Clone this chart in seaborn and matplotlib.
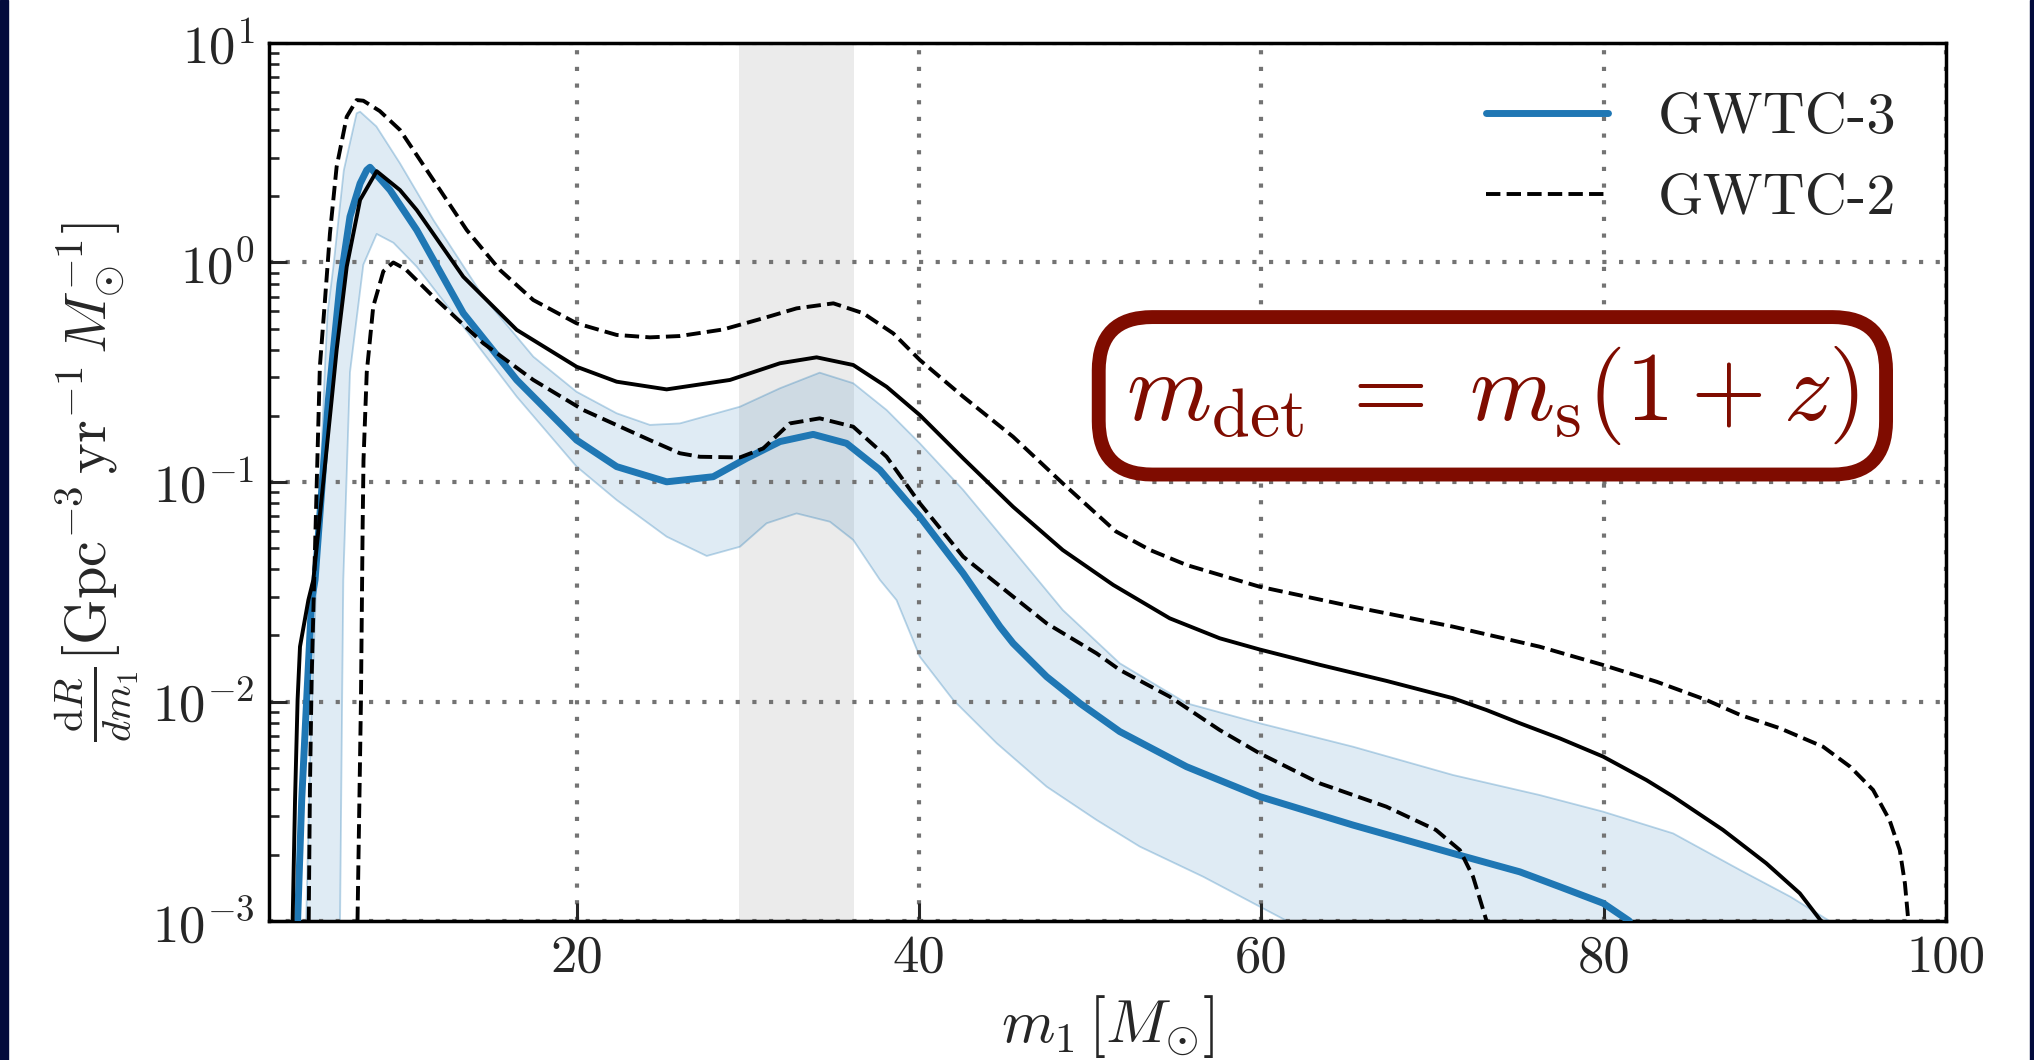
import numpy as np
import pandas as pd
import matplotlib
matplotlib.use("Agg")
import matplotlib.pyplot as plt
from matplotlib.ticker import NullFormatter
import seaborn as sns

# ---------------- data ----------------
# GWTC-3 median (blue)
m_g3_med = [3.70, 3.94, 4.23, 4.52, 4.72, 5.5, 5.79, 6.18, 6.76, 7.35, 7.74, 7.93, 9.1, 10.66,
            13.38, 16.5, 20.0, 22.34, 25.26, 27.98, 29.93, 31.88, 33.82, 35.77, 37.72, 40.05,
            42.58, 44.73, 45.5, 47.46, 49.4, 51.73, 55.63, 59.9, 65.36, 71.2, 75.1, 77.44,
            79.97, 81.5]
r_g3_med = [0.00100, 0.00356, 0.0102, 0.0290, 0.0358, 0.237, 0.399, 0.803, 1.618, 2.29, 2.636,
            2.716, 2.138, 1.406, 0.5875, 0.2917, 0.1552, 0.1175, 0.1002, 0.1057, 0.1282,
            0.1528, 0.1648, 0.1500, 0.1135, 0.0695, 0.03837, 0.02193, 0.01841, 0.01297,
            0.009817, 0.007295, 0.005047, 0.003690, 0.002735, 0.002032, 0.001675, 0.001432,
            0.001205, 0.00100]

# GWTC-3 90% band, upper and lower edges
m_g3_hi = [4.2, 4.45, 4.75, 5.3, 5.45, 5.79, 6.4, 7.15, 7.35, 8.3, 9.68, 11.63, 14.55, 17.47,
           20.0, 22.34, 24.28, 26.03, 29.54, 31.88, 34.2, 36.16, 38.11, 40.05, 42.58, 45.5,
           48.4, 51.73, 55.63, 59.9, 65.36, 71.2, 76.25, 79.97, 84.06, 88.0, 90.9, 93.2]
r_g3_hi = [0.00100, 0.00631, 0.02884, 0.3350, 0.5875, 0.957, 2.630, 4.786, 4.864, 4.169, 2.831,
           1.563, 0.6982, 0.3724, 0.2576, 0.2056, 0.1820, 0.1849, 0.2203, 0.2673, 0.3148,
           0.2818, 0.2128, 0.1500, 0.09204, 0.04898, 0.02612, 0.01493, 0.009817, 0.007962,
           0.006223, 0.004624, 0.003750, 0.003148, 0.002506, 0.001702, 0.001291, 0.00100]
m_g3_lo = [6.18, 6.3, 6.37, 6.76, 7.54, 8.32, 9.3, 10.66, 13.38, 16.5, 20.0, 22.34, 25.26,
           27.6, 29.54, 31.1, 32.85, 34.8, 36.16, 37.72, 38.69, 40.05, 42.0, 44.54, 47.46,
           50.38, 52.9, 56.6, 61.5]
r_g3_lo = [0.00100, 0.0100, 0.0358, 0.3162, 0.977, 1.349, 1.230, 0.957, 0.5105, 0.2449, 0.1175,
           0.08279, 0.05636, 0.04603, 0.05070, 0.06486, 0.07194, 0.06592, 0.05445, 0.03581,
           0.02897, 0.01600, 0.01016, 0.006457, 0.004093, 0.002884, 0.002183, 0.001592,
           0.00100]

# GWTC-2 median (black solid)
m_g2_med = [3.41, 3.55, 3.70, 3.84, 4.33, 4.62, 5.69, 5.98, 6.57, 7.35, 8.32, 9.68, 10.66,
            13.38, 16.5, 20.0, 22.34, 25.26, 28.96, 31.88, 34.02, 36.16, 38.11, 40.05, 42.58,
            45.5, 48.4, 51.35, 54.65, 57.57, 59.9, 63.42, 67.3, 71.2, 73.16, 75.1, 77.44,
            79.97, 82.5, 84.06, 86.97, 89.5, 91.46, 92.7]
r_g2_med = [0.00100, 0.00356, 0.0102, 0.01778, 0.0290, 0.0358, 0.237, 0.399, 0.957, 1.928,
            2.606, 2.138, 1.734, 0.861, 0.4932, 0.3350, 0.2864, 0.2642, 0.2917, 0.3475,
            0.3698, 0.3412, 0.2716, 0.2018, 0.1282, 0.07709, 0.04898, 0.03396, 0.02393,
            0.01941, 0.01726, 0.01469, 0.01242, 0.01035, 0.009141, 0.007962, 0.006792,
            0.005610, 0.004385, 0.003690, 0.002600, 0.001832, 0.001337, 0.00100]

# GWTC-2 90% bounds (black dashed)
m_g2_hi = [4.35, 4.42, 4.52, 4.65, 5.0, 5.3, 5.59, 5.98, 6.57, 7.15, 7.54, 8.5, 9.68, 11.63,
           13.58, 15.52, 17.47, 20.0, 22.34, 24.28, 26.03, 28.57, 30.9, 32.85, 35.0, 36.74,
           38.5, 40.05, 42.58, 45.5, 48.4, 51.5, 53.5, 55.63, 59.9, 65.36, 71.2, 76.25, 79.97,
           83.1, 86.0, 88.0, 90.3, 92.82, 94.4, 95.74, 96.7, 97.3, 97.6, 97.8]
r_g2_hi = [0.00100, 0.00398, 0.01259, 0.03162, 0.3350, 0.6745, 1.358, 2.729, 4.613, 5.495,
           5.458, 4.898, 4.018, 2.377, 1.406, 0.9247, 0.6745, 0.5284, 0.4677, 0.4560, 0.4624,
           0.4955, 0.5572, 0.6180, 0.6516, 0.5875, 0.4753, 0.3597, 0.2449, 0.1607, 0.09863,
           0.05957, 0.04900, 0.04188, 0.03334, 0.02704, 0.02193, 0.01778, 0.01466, 0.01230,
           0.01016, 0.008670, 0.007551, 0.006223, 0.005047, 0.003954, 0.002884, 0.002104,
           0.001483, 0.00100]
m_g2_lo = [7.2, 7.4, 7.5, 7.55, 7.74, 8.12, 8.71, 9.29, 10.0, 11.63, 14.55, 17.47, 20.39,
           24.28, 26.03, 27.2, 29.54, 30.9, 32.46, 34.2, 36.16, 38.11, 40.05, 42.58, 45.5,
           47.46, 50.38, 51.73, 54.65, 57.57, 59.9, 63.42, 67.3, 70.2, 71.6, 72.37, 73.16]
r_g2_lo = [0.00100, 0.0100, 0.0631, 0.1259, 0.3162, 0.631, 0.912, 1.0, 0.933, 0.6982, 0.4285,
           0.2917, 0.2128, 0.1552, 0.1352, 0.1303, 0.1294, 0.1422, 0.1849, 0.1950, 0.1786,
           0.1303, 0.07998, 0.04571, 0.03006, 0.02270, 0.01656, 0.01393, 0.01052, 0.007413,
           0.005808, 0.004236, 0.003319, 0.002600, 0.002104, 0.001592, 0.00100]

band_m = [29.5, 36.2]           # grey shaded mass range
x_ticks = [20, 40, 60, 80, 100]
y_ticks = [1e-3, 1e-2, 1e-1, 1e0, 1e1]
y_ticklabels = [r"$10^{-3}$", r"$10^{-2}$", r"$10^{-1}$", r"$10^{0}$", r"$10^{1}$"]
labels = ["GWTC-3", "GWTC-2"]
box_text = r"$m_{\rm det}\;=\;m_{\rm s}(1 + z)$"

# ---------------- style ----------------
sns.set_theme(style="ticks")
plt.rcParams.update({
    "font.family": "serif",
    "font.serif": ["cmr10"],
    "mathtext.fontset": "cm",
    "axes.unicode_minus": False,
    "axes.formatter.use_mathtext": True,
})

BLUE = "#1f77b4"
DARKRED = "#7f0c00"

fig = plt.figure(figsize=(20.34, 10.60), dpi=100)
ax = fig.add_axes([268.5 / 2034, 1 - 921 / 1060, (1946 - 268.5) / 2034, (921 - 43) / 1060])

# navy slide edges
fig.add_artist(plt.Rectangle((0, 0), 8 / 2034, 1, transform=fig.transFigure,
                             color="#030b3c", zorder=0))
fig.add_artist(plt.Rectangle((2030 / 2034, 0), 4 / 2034, 1, transform=fig.transFigure,
                             color="#030b3c", zorder=0))

ax.axvspan(band_m[0], band_m[1], color="#ebebeb", lw=0, zorder=0.5)

# GWTC-3 band as polygon (upper edge forward, lower edge backward)
poly_m = list(m_g3_hi) + list(m_g3_lo[::-1])
poly_r = list(r_g3_hi) + list(r_g3_lo[::-1])
ax.fill(poly_m, poly_r, color=BLUE, alpha=0.14, lw=0, zorder=1)
sns.lineplot(x=m_g3_hi, y=r_g3_hi, ax=ax, sort=False, estimator=None,
             color=BLUE, alpha=0.3, lw=1.3, zorder=1.2)
sns.lineplot(x=m_g3_lo, y=r_g3_lo, ax=ax, sort=False, estimator=None,
             color=BLUE, alpha=0.3, lw=1.3, zorder=1.2)

line_kw = dict(sort=False, estimator=None, solid_joinstyle="round", dash_joinstyle="round")
sns.lineplot(x=m_g3_med, y=r_g3_med, ax=ax, color=BLUE, lw=5.0, label=labels[0],
             zorder=3, **line_kw)
sns.lineplot(x=m_g2_med, y=r_g2_med, ax=ax, color="black", lw=2.8, zorder=4, **line_kw)
sns.lineplot(x=m_g2_hi, y=r_g2_hi, ax=ax, color="black", lw=2.8, linestyle="--",
             label=labels[1], zorder=4, **line_kw)
sns.lineplot(x=m_g2_lo, y=r_g2_lo, ax=ax, color="black", lw=2.8, linestyle="--",
             zorder=4, **line_kw)

ax.set_yscale("log")
ax.set_xlim(2, 100)
ax.set_ylim(1e-3, 1e1)
ax.set_xticks(x_ticks)
ax.set_xticklabels([str(v) for v in x_ticks])
ax.set_yticks(y_ticks)
ax.set_yticklabels(y_ticklabels)
ax.yaxis.set_minor_formatter(NullFormatter())

ax.tick_params(axis="both", which="major", direction="in", length=13, width=2.2,
               labelsize=38, pad=10)
ax.tick_params(axis="y", which="minor", direction="in", length=7.5, width=1.9)
for s in ax.spines.values():
    s.set_linewidth(2.5)
    s.set_color("black")

ax.set_axisbelow("line")
ax.grid(True, which="major", linestyle=(0, (1, 3.0)), color="0.45", linewidth=3.0)

ax.set_xlabel(r"$m_1\,[M_{\odot}]$", fontsize=44, labelpad=8)
ax.set_ylabel(r"$\frac{\mathrm{d}R}{dm_1}[\mathrm{Gpc}^{-3}\,\mathrm{yr}^{-1}\,M_{\odot}^{-1}]$",
              fontsize=42, labelpad=8)

leg = ax.legend(loc="upper right", frameon=False, fontsize=42, handlelength=2.1,
                handletextpad=0.85, labelspacing=0.5, borderaxespad=0.45)

ax.text(73.5, 0.247, box_text, fontsize=70, color=DARKRED, ha="center", va="center",
        zorder=6,
        bbox=dict(boxstyle="round,pad=0.28,rounding_size=0.55", fc="white",
                  ec=DARKRED, lw=10))

fig.savefig("out.png", dpi=100)
